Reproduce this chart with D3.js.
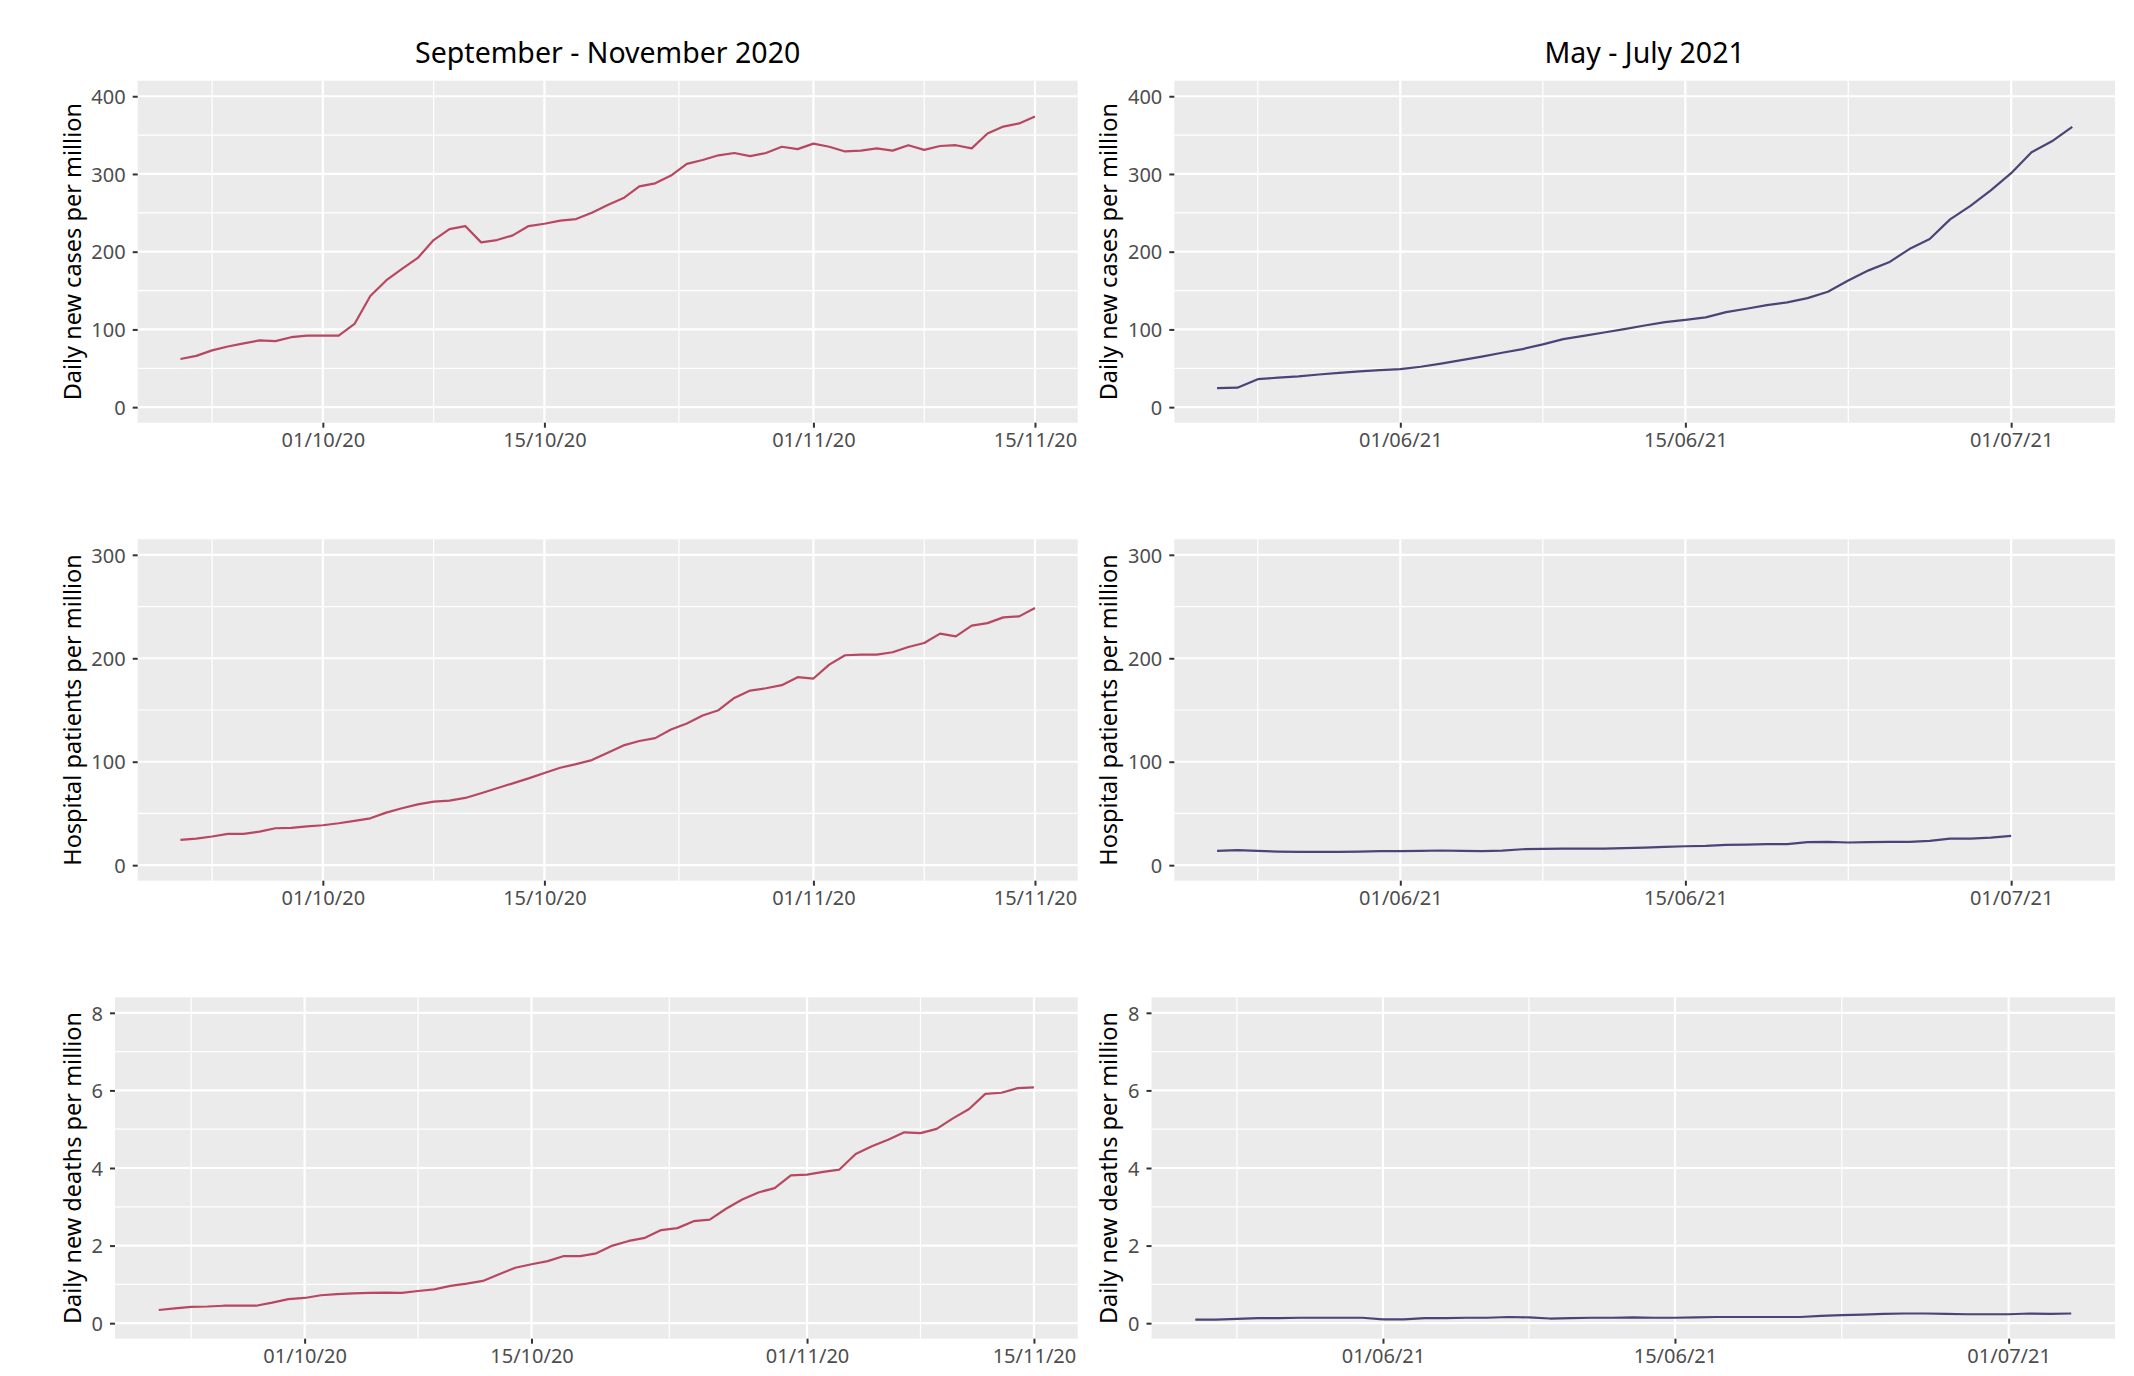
<!DOCTYPE html>
<html>
<head>
<meta charset="utf-8">
<script src="https://cdn.jsdelivr.net/npm/d3@7"></script>
<style>
  html, body { margin: 0; padding: 0; background: #ffffff; }
  svg { display: block; }
  text { font-family: "Noto Sans", "DejaVu Sans", sans-serif; }
</style>
</head>
<body>
<svg id="chart" width="2134" height="1376"></svg>
<script>
// ---------------- DATA ----------------
const columnTitles = ["September - November 2020", "May - July 2021"];
const rowLabels = ["Daily new cases per million", "Hospital patients per million", "Daily new deaths per million"];

const datesSepNov = [
  "2020-09-22","2020-09-23","2020-09-24","2020-09-25","2020-09-26","2020-09-27","2020-09-28","2020-09-29","2020-09-30",
  "2020-10-01","2020-10-02","2020-10-03","2020-10-04","2020-10-05","2020-10-06","2020-10-07","2020-10-08","2020-10-09","2020-10-10",
  "2020-10-11","2020-10-12","2020-10-13","2020-10-14","2020-10-15","2020-10-16","2020-10-17","2020-10-18","2020-10-19","2020-10-20",
  "2020-10-21","2020-10-22","2020-10-23","2020-10-24","2020-10-25","2020-10-26","2020-10-27","2020-10-28","2020-10-29","2020-10-30","2020-10-31",
  "2020-11-01","2020-11-02","2020-11-03","2020-11-04","2020-11-05","2020-11-06","2020-11-07","2020-11-08","2020-11-09","2020-11-10",
  "2020-11-11","2020-11-12","2020-11-13","2020-11-14","2020-11-15"
];
const datesMayJul = [
  "2021-05-23","2021-05-24","2021-05-25","2021-05-26","2021-05-27","2021-05-28","2021-05-29","2021-05-30","2021-05-31",
  "2021-06-01","2021-06-02","2021-06-03","2021-06-04","2021-06-05","2021-06-06","2021-06-07","2021-06-08","2021-06-09","2021-06-10",
  "2021-06-11","2021-06-12","2021-06-13","2021-06-14","2021-06-15","2021-06-16","2021-06-17","2021-06-18","2021-06-19","2021-06-20",
  "2021-06-21","2021-06-22","2021-06-23","2021-06-24","2021-06-25","2021-06-26","2021-06-27","2021-06-28","2021-06-29","2021-06-30",
  "2021-07-01","2021-07-02","2021-07-03","2021-07-04"
];

const casesSepNov = [62,66,73,78,82,86,85,90,92,92,92,107,143,163,178,192,215,229,233,212,
  215,221,233,236,240,242,250,260,269,284,288,298,313,318,324,327,323,327,335,332,
  339,335,329,330,333,330,337,331,336,337,333,352,361,365,374];
const hospSepNov = [24.4,25.7,27.7,30.2,30.2,32.5,35.7,36,37.6,38.6,40.5,42.8,45.3,50.8,55,58.8,61.4,62.4,65,69.5,
  74.3,79.1,83.9,89.1,94.2,97.7,101.6,108.7,115.8,120,122.8,131.2,137,144.7,149.8,161.7,168.8,171,174,181.7,
  180.4,193.9,202.9,203.5,203.5,205.8,210.9,214.8,223.8,221.2,231.5,234,239.5,240.5,248.6];
const deathsSepNov = [0.34,0.38,0.42,0.43,0.45,0.45,0.45,0.53,0.62,0.65,0.72,0.75,0.77,0.78,0.79,0.78,0.83,0.87,0.96,1.02,
  1.09,1.26,1.43,1.52,1.60,1.73,1.73,1.80,2.00,2.12,2.20,2.40,2.45,2.63,2.67,2.95,3.19,3.37,3.48,3.81,
  3.83,3.90,3.96,4.36,4.56,4.73,4.92,4.90,5.01,5.28,5.52,5.91,5.94,6.06,6.08];

const casesMayJul = [24.5,25,36,38,39.5,42,44,46,47.6,49,52,56,60.5,65,70,74.7,80.7,87.6,91.8,96,
  100.4,105,109.4,112.4,115.5,122.3,126.6,131.3,134.8,140.3,148.5,163,176,186.3,203.4,216.3,241.6,259,279,301,
  328,342,360.5];
const hospMayJul = [13.8,14.5,13.8,13.2,12.9,12.9,12.9,13.2,13.5,13.5,13.8,14.2,13.8,13.5,14.1,15.4,15.8,16,16,16,
  16.4,17,17.7,18.3,18.6,19.6,19.9,20.3,20.3,22.2,22.5,21.9,22.2,22.5,22.5,23.5,25.7,25.7,26.7,28.3];
const deathsMayJul = [0.09,0.09,0.11,0.13,0.13,0.14,0.14,0.14,0.14,0.10,0.10,0.13,0.13,0.14,0.14,0.16,0.15,0.12,0.13,0.14,
  0.14,0.15,0.14,0.14,0.15,0.16,0.16,0.16,0.16,0.16,0.19,0.21,0.22,0.24,0.25,0.25,0.24,0.23,0.23,0.23,
  0.25,0.24,0.25];

const xTicksSepNov = ["2020-10-01","2020-10-15","2020-11-01","2020-11-15"];
const xTicksMayJul = ["2021-06-01","2021-06-15","2021-07-01"];
const yTicksCases = [0,100,200,300,400];
const yTicksHosp = [0,100,200,300];
const yTicksDeaths = [0,2,4,6,8];

// ---------------- LAYOUT ----------------
const parse = d3.timeParse("%Y-%m-%d");
const fmt = d3.timeFormat("%d/%m/%y");
const svg = d3.select("#chart");

const colLeftColor = "#B8475F";
const colRightColor = "#4E4276";
const panelBg = "#EBEBEB";

const rows = [
  {top: 80.7, bottom: 422.7, ticks: yTicksCases, label: rowLabels[0]},
  {top: 539.3, bottom: 880.7, ticks: yTicksHosp, label: rowLabels[1]},
  {top: 997.3, bottom: 1338.7, ticks: yTicksDeaths, label: rowLabels[2]}
];

const cols = [
  {title: columnTitles[0], dates: datesSepNov, xTicks: xTicksSepNov, color: colLeftColor,
   series: [casesSepNov, hospSepNov, deathsSepNov],
   lefts: [137.7, 137.7, 115], right: 1077.7, labelX: 73},
  {title: columnTitles[1], dates: datesMayJul, xTicks: xTicksMayJul, color: colRightColor,
   series: [casesMayJul, hospMayJul, deathsMayJul],
   lefts: [1174.3, 1174.3, 1151.5], right: 2115, labelX: 1109}
];

function expand(lo, hi, f) { const r = hi - lo; return [lo - r * f, hi + r * f]; }
function expandDate(a, b) {
  const ms = (b - a) * 0.05;
  return [new Date(+a - ms), new Date(+b + ms)];
}

cols.forEach((col, ci) => {
  const dts = col.dates.map(parse);
  const xDom = expandDate(dts[0], dts[dts.length - 1]);
  const majors = col.xTicks.map(parse);
  // minor breaks: midpoints between majors, extended by one step on each side
  const step0 = majors[1] - majors[0];
  const stepN = majors[majors.length - 1] - majors[majors.length - 2];
  const ext = [new Date(+majors[0] - step0), ...majors, new Date(+majors[majors.length - 1] + stepN)];
  const minors = [];
  for (let i = 0; i < ext.length - 1; i++) minors.push(new Date((+ext[i] + +ext[i + 1]) / 2));

  rows.forEach((row, ri) => {
    const left = col.lefts[ri], right = col.right;
    const x = d3.scaleTime().domain(xDom).range([left, right]);
    const yMax = row.ticks[row.ticks.length - 1];
    const y = d3.scaleLinear().domain(expand(0, yMax, 0.05)).range([row.bottom, row.top]);
    const g = svg.append("g");

    // panel
    g.append("rect").attr("x", left).attr("y", row.top)
      .attr("width", right - left).attr("height", row.bottom - row.top).attr("fill", panelBg);

    const inX = d => x(d) >= left && x(d) <= right;
    // minor grid
    const yStep = row.ticks[1] - row.ticks[0];
    const yMinors = row.ticks.map(t => t + yStep / 2).filter(v => y(v) >= row.top && y(v) <= row.bottom);
    g.selectAll(null).data(yMinors).enter().append("line")
      .attr("x1", left).attr("x2", right).attr("y1", d => y(d)).attr("y2", d => y(d))
      .attr("stroke", "#fff").attr("stroke-width", 1.2);
    g.selectAll(null).data(minors.filter(inX)).enter().append("line")
      .attr("y1", row.top).attr("y2", row.bottom).attr("x1", d => x(d)).attr("x2", d => x(d))
      .attr("stroke", "#fff").attr("stroke-width", 1.2);
    // major grid
    g.selectAll(null).data(row.ticks).enter().append("line")
      .attr("x1", left).attr("x2", right).attr("y1", d => y(d)).attr("y2", d => y(d))
      .attr("stroke", "#fff").attr("stroke-width", 2.2);
    g.selectAll(null).data(majors).enter().append("line")
      .attr("y1", row.top).attr("y2", row.bottom).attr("x1", d => x(d)).attr("x2", d => x(d))
      .attr("stroke", "#fff").attr("stroke-width", 2.2);

    // line
    const vals = col.series[ri];
    const pts = vals.map((v, i) => ({d: dts[i], v}));
    g.append("path").datum(pts)
      .attr("fill", "none").attr("stroke", col.color).attr("stroke-width", 2.2)
      .attr("stroke-linejoin", "round")
      .attr("d", d3.line().x(p => x(p.d)).y(p => y(p.v)));

    // axes
    const yAxis = g.append("g").attr("transform", `translate(${left},0)`)
      .call(d3.axisLeft(y).tickValues(row.ticks).tickSize(5).tickPadding(7).tickFormat(d3.format("d")));
    const xAxis = g.append("g").attr("transform", `translate(0,${row.bottom})`)
      .call(d3.axisBottom(x).tickValues(majors).tickSize(5).tickPadding(5.5).tickFormat(fmt));
    [yAxis, xAxis].forEach(a => {
      a.select(".domain").remove();
      a.selectAll(".tick line").attr("stroke", "#333333").attr("stroke-width", 2);
      a.selectAll(".tick text").attr("fill", "#4D4D4D").style("font-size", "20px")
        .style("font-family", '"Noto Sans", sans-serif');
    });
    yAxis.selectAll(".tick text").attr("dy", "0.36em");

    // y-axis title
    const cy = (row.top + row.bottom) / 2;
    g.append("text").attr("transform", `translate(${col.labelX},${cy}) rotate(-90)`)
      .attr("text-anchor", "middle").attr("dy", "0.35em")
      .style("font-size", "23.5px").attr("fill", "#000").text(row.label);

    // column title on first row
    if (ri === 0) {
      g.append("text").attr("x", (left + right) / 2).attr("y", 63)
        .attr("text-anchor", "middle").style("font-size", "28.5px").attr("fill", "#000")
        .text(col.title);
    }
  });
});
</script>
</body>
</html>
